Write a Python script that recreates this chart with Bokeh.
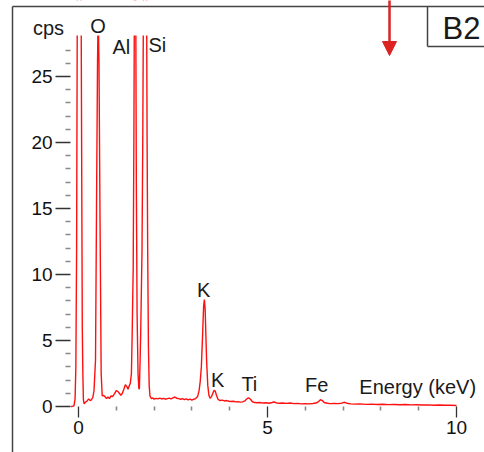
from bokeh.plotting import figure
from bokeh.models import (Label, BoxAnnotation, Arrow, NormalHead, FixedTicker, Range1d)
from bokeh.embed import file_html
from bokeh.resources import INLINE

# ---- data ----
energy_kev = [
    -0.20, -0.15, -0.12, -0.09, -0.07, -0.05, -0.03, 0.00, 0.04, 0.07, 0.09, 0.10, 0.115, 0.13, 0.15,
    0.185, 0.22, 0.27, 0.31, 0.34, 0.38, 0.41, 0.45, 0.476, 0.503, 0.52, 0.542, 0.57, 0.60, 0.627,
    0.66, 0.70, 0.74, 0.78, 0.82, 0.86, 0.90, 0.95, 1.00, 1.04, 1.08, 1.12, 1.16, 1.20, 1.24, 1.28,
    1.31, 1.34, 1.37, 1.40, 1.42, 1.447, 1.465, 1.48, 1.50, 1.515, 1.53, 1.55, 1.575, 1.595, 1.61,
    1.63, 1.645, 1.68, 1.70, 1.72, 1.74, 1.77, 1.80, 1.815, 1.83, 1.85, 1.87, 1.89, 1.93,
    1.97, 2.00, 2.05, 2.10, 2.15, 2.20, 2.25, 2.30, 2.35, 2.40, 2.45, 2.50, 2.55, 2.60, 2.65, 2.70,
    2.75, 2.80, 2.85, 2.90, 2.95, 3.00, 3.05, 3.10, 3.15, 3.19, 3.22, 3.25, 3.28, 3.31, 3.33, 3.35,
    3.37, 3.39, 3.42, 3.45, 3.48, 3.52, 3.56, 3.59, 3.62, 3.65, 3.69, 3.74, 3.80, 3.86, 3.92, 3.98,
    4.04, 4.10, 4.16, 4.22, 4.28, 4.34, 4.40, 4.45, 4.50, 4.55, 4.60, 4.66, 4.72, 4.80, 4.88, 4.96,
    5.04, 5.12, 5.18, 5.24, 5.32, 5.40, 5.50, 5.60, 5.70, 5.80, 5.90, 6.00, 6.10, 6.20, 6.28, 6.34,
    6.40, 6.45, 6.50, 6.58, 6.66, 6.76, 6.86, 6.96, 7.04, 7.10, 7.20, 7.30, 7.45, 7.60, 7.75, 7.90,
    8.05, 8.20, 8.35, 8.50, 8.65, 8.80, 8.95, 9.10, 9.25, 9.40, 9.55, 9.70, 9.85, 10.00,
]
counts_cps = [
    0.0, 0.02, 0.05, 0.6, 3.0, 12.0, 32.0, 40.0, 40.0, 30.0, 14.0, 6.0, 2.5, 0.5, 0.2,
    0.33, 0.4, 0.58, 0.45, 0.5, 0.7, 1.2, 3.5, 14.8, 26.0, 30.0, 26.0, 14.0, 2.5, 0.8,
    0.85, 0.75, 0.6, 0.72, 0.6, 0.8, 0.75, 0.95, 1.2, 1.15, 1.0, 0.85, 1.0, 1.3, 1.65, 1.5,
    1.3, 1.55, 1.75, 2.5, 5.5, 10.5, 20.0, 32.0, 38.0, 30.0, 17.0, 7.0, 2.5, 1.4, 1.3,
    3.5, 5.5, 11.8, 20.0, 32.0, 45.0, 48.0, 32.0, 20.0, 12.0, 4.5, 1.6, 0.8, 0.6,
    0.65, 0.55, 0.62, 0.58, 0.64, 0.57, 0.62, 0.55, 0.6, 0.63, 0.57, 0.66, 0.72, 0.62, 0.6, 0.55,
    0.6, 0.52, 0.58, 0.5, 0.56, 0.48, 0.55, 0.6, 0.75, 1.2, 1.9, 3.0, 5.2, 7.6, 8.1, 7.4,
    5.4, 3.4, 1.6, 0.85, 0.62, 0.75, 1.05, 1.22, 1.15, 0.85, 0.55, 0.45, 0.48, 0.42, 0.45, 0.4,
    0.38, 0.4, 0.35, 0.36, 0.33, 0.35, 0.42, 0.58, 0.65, 0.55, 0.36, 0.3, 0.28, 0.3, 0.26, 0.28,
    0.25, 0.3, 0.34, 0.27, 0.25, 0.27, 0.24, 0.26, 0.22, 0.24, 0.2, 0.22, 0.2, 0.23, 0.26, 0.35,
    0.52, 0.45, 0.3, 0.25, 0.22, 0.24, 0.22, 0.25, 0.32, 0.25, 0.2, 0.18, 0.2, 0.16, 0.18, 0.15,
    0.17, 0.14, 0.15, 0.13, 0.15, 0.12, 0.13, 0.11, 0.12, 0.1, 0.11, 0.09, 0.1, 0.08,
]
x_major_ticks = [0, 5, 10]
x_minor_ticks = [1, 2, 3, 4, 6, 7, 8, 9]
y_major_ticks = [0, 5, 10, 15, 20, 25]
y_minor_ticks = [1, 2, 3, 4, 6, 7, 8, 9, 11, 12, 13, 14, 16, 17, 18, 19, 21, 22, 23, 24, 26, 27]
y_plot_top = 28.1   # top of the plotted window (peaks are cut here)
x_plot_left = -0.21

# element labels: (text, keV, cps, align)
peak_labels = [
    ("O", 0.516, 28.80, "center"),
    ("Al", 0.90, 27.27, "left"),
    ("Si", 1.85, 27.37, "left"),
    ("K", 3.31, 8.81, "center"),
    ("K", 3.68, 2.00, "center"),
    ("Ti", 4.52, 1.70, "center"),
    ("Fe", 6.30, 1.60, "center"),
]

FONT = "Liberation Sans"
RED = "#ff1010"
TXT = "#1a1a1a"
FRAME = "#444444"

p = figure(width=484, height=452, output_backend="svg", toolbar_location=None,
           x_range=Range1d(-2.0635, 10.7407), y_range=Range1d(-3.485, 30.758))
p.min_border = 0
p.min_border_left = 0
p.min_border_right = 0
p.min_border_top = 0
p.min_border_bottom = 0
p.outline_line_color = None
p.grid.visible = False
p.background_fill_color = "white"
p.border_fill_color = "white"

p.line(energy_kev, counts_cps, line_color=RED, line_width=1.4)

# white mask above the plotting window (the spectrum is cut off at its top)
p.add_layout(BoxAnnotation(bottom=y_plot_top, top=60, left=-5, right=15,
                           fill_color="white", fill_alpha=1.0, line_color=None))

for ax, maj, mnr, out_maj, out_min, loc in (
        (p.xaxis[0], x_major_ticks, x_minor_ticks, 11, 4, 0),
        (p.yaxis[0], y_major_ticks, y_minor_ticks, 15, 5, x_plot_left)):
    ax.fixed_location = loc
    ax.ticker = FixedTicker(ticks=maj, minor_ticks=mnr)
    ax.axis_line_color = None
    ax.major_tick_line_color = "#333333"
    ax.major_tick_line_width = 1.3
    ax.minor_tick_line_color = "#888888"
    ax.minor_tick_line_width = 1.6
    ax.major_tick_out = out_maj
    ax.major_tick_in = 0
    ax.minor_tick_out = out_min
    ax.minor_tick_in = 0
    ax.major_label_text_font = FONT
    ax.major_label_text_font_size = "19px"
    ax.major_label_text_color = "#111111"
p.xaxis.major_label_standoff = 4
p.yaxis.major_label_standoff = 3

for txt, xk, yc, al in peak_labels:
    p.add_layout(Label(x=xk, y=yc, text=txt, text_align=al, text_baseline="alphabetic",
                       text_font=FONT, text_font_size="20px", text_color=TXT))

p.add_layout(Label(x=-0.794, y=28.70, text="cps", text_align="center", text_baseline="alphabetic",
                   text_font=FONT, text_font_size="20px", text_color=TXT))
p.add_layout(Label(x=7.43, y=1.45, text="Energy (keV)", text_align="left", text_baseline="alphabetic",
                   text_font=FONT, text_font_size="20px", text_color=TXT))


def seg(x0, y0, x1, y1, color=FRAME, width=1.5):
    p.add_layout(Arrow(x_start=x0, y_start=y0, x_end=x1, y_end=y1, start=None, end=None,
                       line_color=color, line_width=width))


# outer frame (left and top edges)
seg(-1.746, -5.0, -1.746, 30.30)
seg(-1.746, 30.30, 12.0, 30.30)
# B2 box
seg(9.233, 30.30, 9.233, 27.27)
seg(9.233, 27.27, 12.0, 27.27)
p.add_layout(Label(x=9.63, y=28.62, text="B2", text_align="left", text_baseline="alphabetic",
                   text_font=FONT, text_font_size="31px", text_color=TXT))
p.add_layout(Arrow(x_start=8.228, y_start=31.5, x_end=8.228, y_end=26.59,
                   line_color="#dd2222", line_width=2.5,
                   end=NormalHead(size=14, fill_color="#dd2222", line_color="#dd2222")))

open("out.html", "w").write(file_html(p, INLINE))
